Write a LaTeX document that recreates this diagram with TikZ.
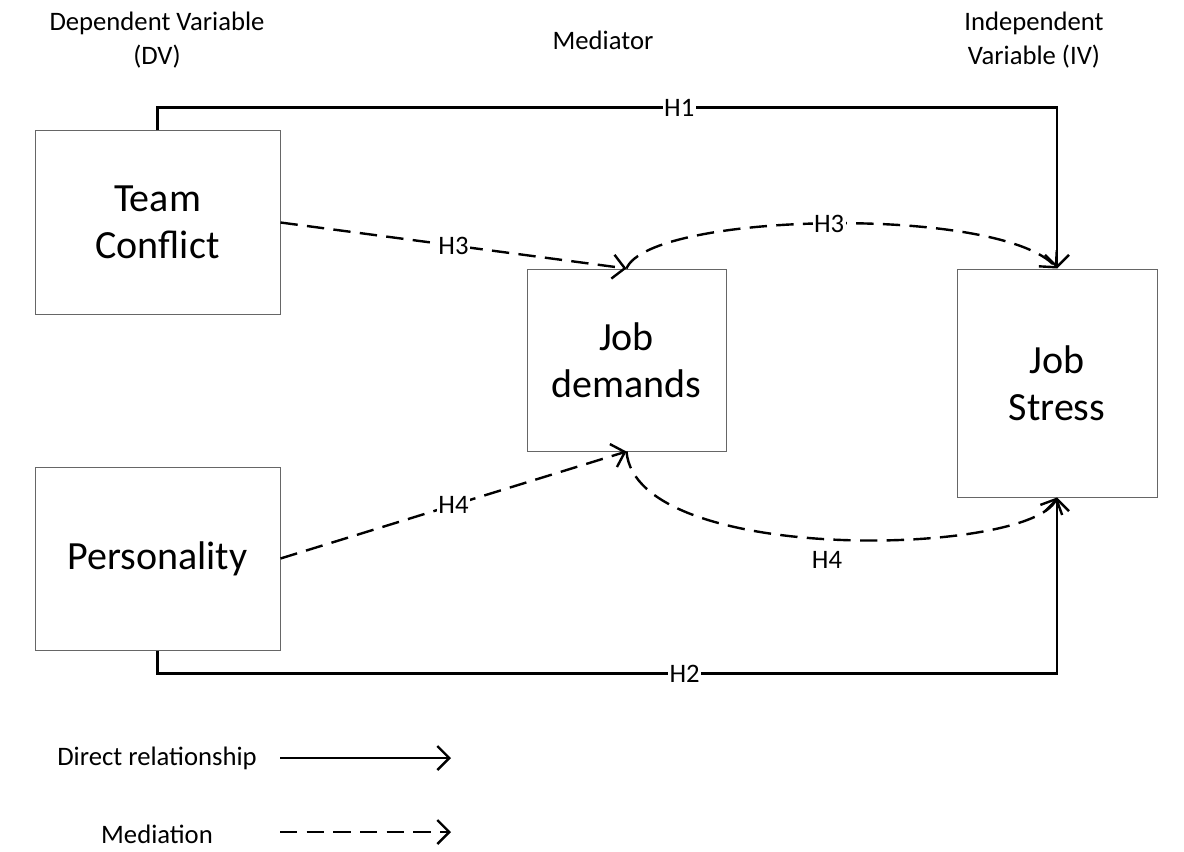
\documentclass[tikz,border=0pt]{standalone}
\usepackage{fontspec}
\setmainfont{Carlito}
\usepackage{tikz}
\usetikzlibrary{arrows.meta}

\begin{document}
\begin{tikzpicture}
	[x=0.75pt, y=-0.75pt,
	varbox/.style={draw=black!60, line width=0.75pt, rectangle, align=center,
		font=\fontsize{30}{35}\selectfont},
	head/.style={align=center, font=\fontsize{20}{25.5}\selectfont},
	lbl/.style={fill=white, inner sep=1pt, font=\fontsize{20}{24}\selectfont},
	direct/.style={line width=1.8pt, -{Straight Barb[length=9pt,width=18pt]}},
	mediation/.style={direct, dash pattern=on 13pt off 7pt}]

	\useasboundingbox (0,0) rectangle (1184,852);

	% headers
	\node [head] (dvhead) at (157,40) {Dependent Variable\\(DV)};
	\node [head] (medhead) at (603,40) {Mediator};
	\node [head] (ivhead) at (1034,40) {Independent\\Variable (IV)};

	% variables
	\node [varbox, minimum width=183.75pt, minimum height=137.25pt] (conflict) at (157.5,222.5) {Team\\Conflict};
	\node [varbox, minimum width=183.75pt, minimum height=137.25pt] (person) at (157.5,558.5) {Personality};
	\node [varbox, minimum width=149.25pt, minimum height=136.5pt] (demands) at (626.5,360) {Job\\demands};
	\node [varbox, minimum width=150pt, minimum height=171pt] (stress) at (1057,383) {Job\\Stress};

	% direct paths
	\draw [direct] (conflict.north) -- ++(0,-23) -| node [lbl, pos=0.29] {H1} (stress.north);
	\draw [direct] (person.south) -- ++(0,23) -| node [lbl, pos=0.293] {H2} (stress.south);

	% mediation paths
	\draw [mediation] (conflict.east) -- node [lbl] {H3} (demands.north);
	\draw [mediation] (person.east) -- node [lbl] {H4} (demands.south);
	\draw [mediation] (demands.north) .. controls (650,212) and (1000,205) .. node [lbl, pos=0.5] {H3} (stress.north);
	\draw [mediation] (demands.south) .. controls (636,566) and (1030,556) .. (stress.south);
	\node [head] (h4lbl) at (827,560) {H4};

	% legend
	\node [head] (directkey) at (157,758) {Direct relationship};
	\node [head] (medkey) at (157,834) {Mediation};
	\coordinate (directa) at (280,758);
	\coordinate (directb) at (451,758);
	\coordinate (meda) at (280,832);
	\coordinate (medb) at (451,832);
	\draw [direct] (directa) -- (directb);
	\draw [mediation] (meda) -- (medb);
\end{tikzpicture}
\end{document}
